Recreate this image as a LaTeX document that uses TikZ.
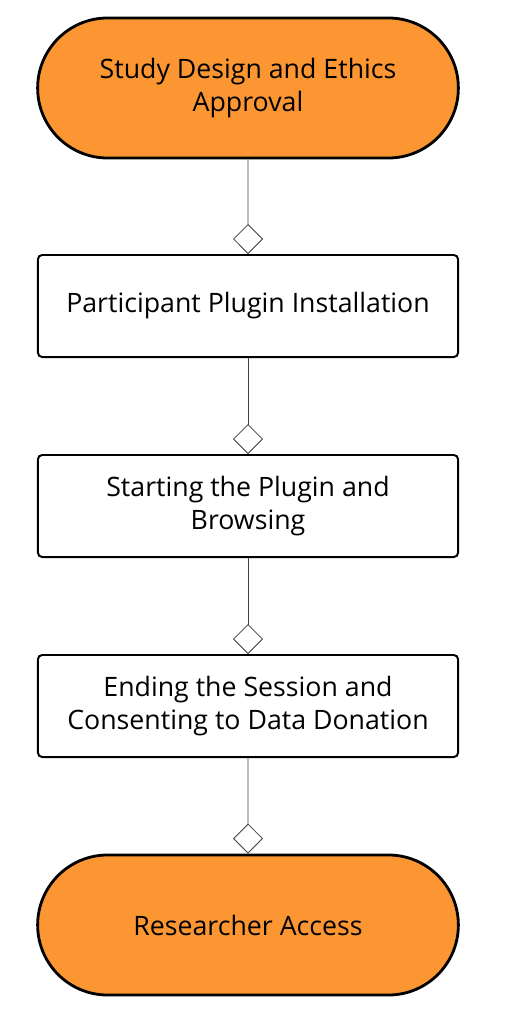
\documentclass[tikz,border=0pt]{standalone}
\usepackage{fontspec}
\setmainfont{Open Sans}
\usetikzlibrary{arrows.meta,shapes.misc}
\definecolor{stageorange}{RGB}{251,150,51}

\begin{document}
\begin{tikzpicture}[x=0.025cm,y=-0.025cm,
  terminal/.style={draw,line width=2pt,rounded rectangle,fill=stageorange,minimum width=10.75cm,minimum height=3.5cm,align=center,font=\fontsize{19}{23}\selectfont},
  stepbox/.style={draw,line width=1.4pt,rounded corners=3pt,fill=white,minimum width=10.5cm,minimum height=2.55cm,align=center,font=\fontsize{19}{23}\selectfont},
  link/.style={line width=0.6pt,draw=black!75,-{Diamond[open,length=0.75cm,width=0.75cm]}}]
\useasboundingbox (0,0) rectangle (510,1021);
\node[terminal] (design) at (248,88) {Study Design and Ethics\\Approval};
\node[stepbox] (install) at (248,306) {Participant Plugin Installation};
\node[stepbox] (browse) at (248,506) {Starting the Plugin and\\Browsing};
\node[stepbox] (consent) at (248,706) {Ending the Session and\\Consenting to Data Donation};
\node[terminal] (access) at (248,925) {Researcher Access};
\draw[link] (design) -- (install);
\draw[link] (install) -- (browse);
\draw[link] (browse) -- (consent);
\draw[link] (consent) -- (access);
\end{tikzpicture}
\end{document}
